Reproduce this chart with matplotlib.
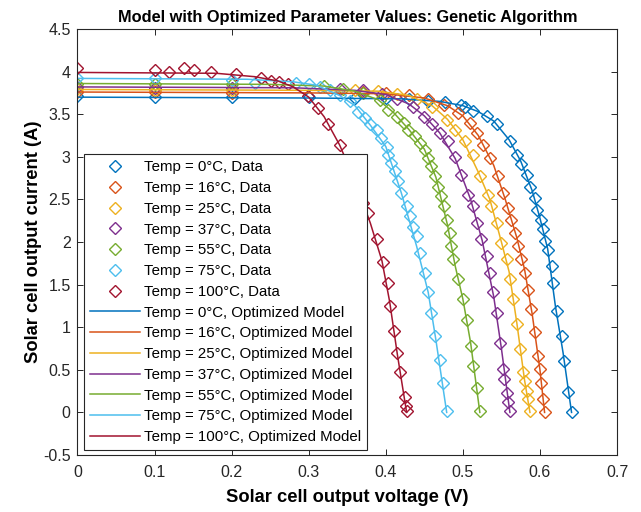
import numpy as np
import matplotlib
matplotlib.use("Agg")
import matplotlib.pyplot as plt

plt.rcParams["font.family"] = ["Liberation Sans", "DejaVu Sans"]

Temps = [0, 16, 25, 37, 55, 75, 100]
Colors = ["#0072BD", "#D95319", "#EDB120", "#7E2F8E", "#77AC30", "#4DBEEE", "#A2142F"]

# measured data (V, A)
V_0 = [0, 0.1, 0.2, 0.30, 0.36, 0.40, 0.43, 0.455, 0.477, 0.498, 0.503, 0.513, 0.531, 0.544, 0.561, 0.570,
       0.576, 0.583, 0.587, 0.594, 0.596, 0.602, 0.604, 0.606, 0.611, 0.615, 0.617, 0.622, 0.628, 0.631, 0.637, 0.641]
I_0 = [3.71, 3.70, 3.70, 3.70, 3.69, 3.69, 3.68, 3.66, 3.64, 3.61, 3.59, 3.54, 3.48, 3.39, 3.18, 3.02,
       2.91, 2.79, 2.65, 2.52, 2.38, 2.26, 2.15, 2.01, 1.91, 1.72, 1.52, 1.19, 0.90, 0.60, 0.24, 0.01]

V_16 = [0, 0.1, 0.2, 0.37, 0.40, 0.43, 0.455, 0.475, 0.494, 0.509, 0.518, 0.526, 0.535, 0.546, 0.552, 0.559,
        0.563, 0.568, 0.572, 0.576, 0.581, 0.585, 0.589, 0.594, 0.598, 0.600, 0.602, 0.604, 0.606]
I_16 = [3.76, 3.76, 3.75, 3.76, 3.75, 3.73, 3.68, 3.61, 3.51, 3.40, 3.28, 3.14, 2.99, 2.77, 2.58, 2.40,
        2.26, 2.11, 1.95, 1.80, 1.64, 1.44, 1.21, 0.94, 0.66, 0.51, 0.35, 0.16, 0.00]

V_25 = [0, 0.1, 0.2, 0.36, 0.39, 0.415, 0.44, 0.46, 0.479, 0.490, 0.503, 0.513, 0.522, 0.533, 0.537, 0.544,
        0.550, 0.557, 0.561, 0.565, 0.570, 0.574, 0.578, 0.581, 0.583, 0.585, 0.587]
I_25 = [3.79, 3.78, 3.78, 3.78, 3.77, 3.74, 3.68, 3.58, 3.43, 3.32, 3.18, 3.02, 2.78, 2.55, 2.42, 2.22,
        1.99, 1.80, 1.56, 1.33, 1.04, 0.74, 0.47, 0.37, 0.25, 0.16, 0.02]

V_37 = [0, 0.1, 0.2, 0.34, 0.37, 0.395, 0.415, 0.435, 0.45, 0.46, 0.470, 0.481, 0.490, 0.498, 0.507, 0.513,
        0.518, 0.524, 0.531, 0.535, 0.539, 0.544, 0.548, 0.552, 0.554, 0.557, 0.559, 0.561]
I_37 = [3.82, 3.81, 3.81, 3.80, 3.78, 3.74, 3.68, 3.58, 3.47, 3.38, 3.28, 3.18, 3.00, 2.79, 2.55, 2.42,
        2.22, 2.03, 1.83, 1.64, 1.41, 1.17, 0.82, 0.51, 0.39, 0.23, 0.12, 0.02]

V_55 = [0, 0.1, 0.2, 0.32, 0.345, 0.37, 0.392, 0.403, 0.414, 0.423, 0.429, 0.438, 0.444, 0.451, 0.455, 0.459,
        0.464, 0.468, 0.472, 0.475, 0.479, 0.483, 0.485, 0.487, 0.494, 0.500, 0.505, 0.511, 0.513, 0.518, 0.522]
I_55 = [3.86, 3.86, 3.85, 3.83, 3.80, 3.75, 3.67, 3.55, 3.47, 3.40, 3.32, 3.24, 3.16, 3.08, 2.99, 2.89,
        2.77, 2.65, 2.54, 2.42, 2.26, 2.11, 1.95, 1.80, 1.56, 1.33, 1.09, 0.78, 0.55, 0.29, 0.02]

V_75 = [0, 0.1, 0.2, 0.23, 0.284, 0.301, 0.315, 0.328, 0.340, 0.353, 0.364, 0.373, 0.379, 0.388, 0.394, 0.401,
        0.403, 0.407, 0.412, 0.416, 0.420, 0.427, 0.431, 0.435, 0.440, 0.444, 0.451, 0.455, 0.459, 0.464, 0.470,
        0.474, 0.479]
I_75 = [3.92, 3.92, 3.90, 3.87, 3.87, 3.85, 3.82, 3.78, 3.72, 3.65, 3.53, 3.45, 3.38, 3.32, 3.22, 3.12,
        3.02, 2.93, 2.83, 2.71, 2.58, 2.42, 2.30, 2.18, 2.07, 1.87, 1.64, 1.41, 1.17, 0.90, 0.62,
        0.35, 0.02]

V_100 = [0, 0.1, 0.119, 0.138, 0.151, 0.173, 0.206, 0.238, 0.251, 0.261, 0.273, 0.299, 0.312, 0.325, 0.340,
         0.350, 0.358, 0.365, 0.370, 0.377, 0.388, 0.396, 0.403, 0.405, 0.410, 0.414, 0.418, 0.425, 0.426, 0.427]
I_100 = [4.04, 4.02, 4.00, 4.04, 4.02, 4.00, 3.97, 3.92, 3.89, 3.88, 3.86, 3.71, 3.57, 3.38, 3.14,
         2.95, 2.75, 2.58, 2.46, 2.34, 2.03, 1.76, 1.52, 1.25, 0.96, 0.70, 0.47, 0.18, 0.08, 0.02]

# optimized model curves
MV_0 = [0, 0.3, 0.42, 0.47, 0.50, 0.52, 0.54, 0.56, 0.575, 0.59, 0.60, 0.61, 0.62, 0.63, 0.641]
MI_0 = [3.70, 3.69, 3.68, 3.65, 3.60, 3.53, 3.42, 3.20, 2.95, 2.60, 2.28, 1.92, 1.25, 0.70, 0.0]
MV_16 = [0, 0.3, 0.40, 0.45, 0.48, 0.50, 0.52, 0.54, 0.555, 0.57, 0.58, 0.59, 0.60, 0.606]
MI_16 = [3.76, 3.75, 3.74, 3.69, 3.60, 3.48, 3.25, 2.90, 2.50, 2.05, 1.68, 1.15, 0.50, 0.0]
MV_25 = [0, 0.3, 0.39, 0.43, 0.46, 0.48, 0.50, 0.52, 0.535, 0.55, 0.56, 0.57, 0.58, 0.587]
MI_25 = [3.79, 3.78, 3.77, 3.72, 3.60, 3.44, 3.20, 2.82, 2.50, 2.00, 1.65, 1.05, 0.38, 0.0]
MV_37 = [0, 0.28, 0.36, 0.40, 0.43, 0.45, 0.47, 0.49, 0.51, 0.525, 0.54, 0.55, 0.561]
MI_37 = [3.82, 3.81, 3.78, 3.73, 3.62, 3.48, 3.28, 2.98, 2.50, 2.02, 1.36, 0.75, 0.0]
MV_55 = [0, 0.25, 0.32, 0.36, 0.39, 0.41, 0.43, 0.45, 0.465, 0.48, 0.49, 0.50, 0.51, 0.522]
MI_55 = [3.86, 3.85, 3.83, 3.77, 3.67, 3.52, 3.32, 3.09, 2.76, 2.20, 1.72, 1.33, 0.82, 0.0]
MV_75 = [0, 0.22, 0.28, 0.31, 0.34, 0.36, 0.38, 0.40, 0.42, 0.44, 0.455, 0.465, 0.479]
MI_75 = [3.92, 3.91, 3.88, 3.84, 3.72, 3.60, 3.37, 3.12, 2.58, 1.95, 1.41, 0.85, 0.0]
MV_100 = [0, 0.18, 0.23, 0.26, 0.28, 0.30, 0.32, 0.34, 0.36, 0.38, 0.395, 0.405, 0.415, 0.427]
MI_100 = [3.99, 3.98, 3.94, 3.89, 3.82, 3.70, 3.47, 3.14, 2.72, 2.22, 1.78, 1.30, 0.68, 0.0]

Data_V = [V_0, V_16, V_25, V_37, V_55, V_75, V_100]
Data_I = [I_0, I_16, I_25, I_37, I_55, I_75, I_100]
Model_V = [MV_0, MV_16, MV_25, MV_37, MV_55, MV_75, MV_100]
Model_I = [MI_0, MI_16, MI_25, MI_37, MI_55, MI_75, MI_100]

X_Ticks = [0, 0.1, 0.2, 0.3, 0.4, 0.5, 0.6, 0.7]
X_Labels = ["0", "0.1", "0.2", "0.3", "0.4", "0.5", "0.6", "0.7"]
Y_Ticks = [-0.5, 0, 0.5, 1, 1.5, 2, 2.5, 3, 3.5, 4, 4.5]
Y_Labels = ["-0.5", "0", "0.5", "1", "1.5", "2", "2.5", "3", "3.5", "4", "4.5"]

AxisColor = "#262626"

fig = plt.figure(figsize=(6.41, 5.12), dpi=100)
ax = fig.add_axes([0.1209, 0.1113, 0.8417, 0.8321])

for T, C, V, I in zip(Temps, Colors, Data_V, Data_I):
    ax.plot(V, I, linestyle="none", marker="D", markersize=6.5, markerfacecolor="none",
            markeredgecolor=C, markeredgewidth=1.0, label=f"Temp = {T}\u00b0C, Data")

for T, C, V, I in zip(Temps, Colors, Model_V, Model_I):
    ax.plot(V, I, color=C, linewidth=1.1, label=f"Temp = {T}\u00b0C, Optimized Model")

ax.set_xlim(0, 0.7)
ax.set_ylim(-0.5, 4.5)
ax.set_xticks(X_Ticks)
ax.set_xticklabels(X_Labels)
ax.set_yticks(Y_Ticks)
ax.set_yticklabels(Y_Labels)
ax.tick_params(direction="in", top=True, right=True, length=4, width=0.7,
               colors=AxisColor, labelsize=11.5)
ax.tick_params(axis="x", pad=7)
ax.tick_params(axis="y", pad=5)
for s in ax.spines.values():
    s.set_color(AxisColor)
    s.set_linewidth(0.8)

ax.set_title("Model with Optimized Parameter Values: Genetic Algorithm",
             fontsize=11.8, fontweight="bold", pad=5)
ax.set_xlabel("Solar cell output voltage (V)", fontsize=13.2, fontweight="bold", labelpad=7)
ax.set_ylabel("Solar cell output current (A)", fontsize=13.2, fontweight="bold", labelpad=1)

leg = ax.legend(loc="lower left", bbox_to_anchor=(0.0126, 0.0117), borderaxespad=0,
                fontsize=10.8, frameon=True, fancybox=False, handlelength=3.3,
                handletextpad=0.3, labelspacing=0.45, borderpad=0.4)
leg.get_frame().set_edgecolor(AxisColor)
leg.get_frame().set_linewidth(0.8)
leg.get_frame().set_alpha(1)

fig.savefig("out.png", dpi=100)
